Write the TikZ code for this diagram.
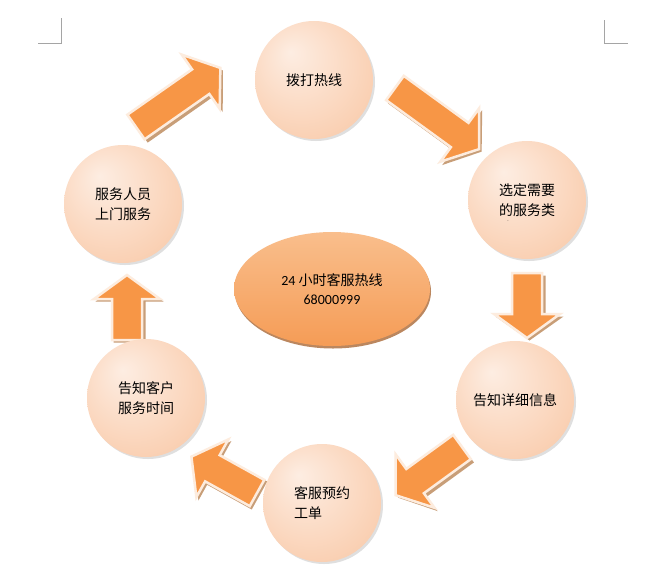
\documentclass[tikz,border=0pt]{standalone}
\usepackage{fontspec}
\setmainfont{Noto Sans CJK SC}
\newfontfamily\latinf{Carlito}
\usetikzlibrary{calc,shadows,shapes.geometric}
\definecolor{arrowor}{RGB}{247,150,70}
\definecolor{arrowrim}{RGB}{253,236,222}
\definecolor{arrowsh}{RGB}{200,158,120}
\definecolor{markg}{RGB}{165,165,165}
\definecolor{pk1}{RGB}{253,237,226}
\definecolor{pk2}{RGB}{251,216,192}
\definecolor{pk3}{RGB}{247,196,160}
\definecolor{pk4}{RGB}{238,170,128}
\definecolor{hubhi}{RGB}{249,190,140}
\definecolor{hubmid}{RGB}{246,148,68}
\definecolor{hublo}{RGB}{245,156,86}
\definecolor{hubsh}{RGB}{170,105,55}
\pgfdeclareradialshading{peach}{\pgfpoint{-10bp}{12bp}}{color(0bp)=(pk1); color(22bp)=(pk2); color(42bp)=(pk3); color(50bp)=(pk4)}

\begin{document}
\begin{tikzpicture}[
  x=1pt,y=-1pt,
  font={\fontsize{14pt}{20pt}\selectfont},
  stage/.style={circle,minimum size=118pt,inner sep=0pt,align=left,
                shading=peach,
                drop shadow={shadow xshift=2pt,shadow yshift=-2pt,opacity=0.25}},
  hub/.style={ellipse,minimum width=196pt,minimum height=114pt,inner sep=0pt,
              align=center,top color=hubhi,middle color=hubmid,bottom color=hublo,
              drop shadow={shadow xshift=1pt,shadow yshift=-2.5pt,fill=hubsh,opacity=0.8}},
  cornermark/.style={draw=markg,line width=0.8pt},
  arrowbody/.pic={\draw[draw=arrowrim,line width=2.5pt,fill=arrowor,line join=miter]
    (0,-15)--({#1-24},-15)--({#1-24},-33)--(#1,0)--({#1-24},33)--({#1-24},15)--(0,15)--cycle;},
  arrowshade/.pic={\fill[arrowsh]
    (0,-16)--({#1-24},-16)--({#1-24},-34)--(#1,0)--({#1-24},34)--({#1-24},16)--(0,16)--cycle;}
]
\useasboundingbox (0,0) rectangle (664,582);
\fill[white] (0,0) rectangle (664,582);

% page corner marks
\draw[cornermark] (61,18)--(61,43)--(38,43);
\draw[cornermark] (604,20)--(604,43)--(628,43);

% block arrows: tail x / tail y / angle / length
\foreach \tx/\ty/\ang/\len [count=\i] in
  {136/127/35/103, 395/88/-36/104, 527/273/-90/65,
   462/447/216/82, 257/493/151/75, 127/340/90/65}
{
  \pic[rotate=\ang] at ($(\tx,\ty)+(2.5,2.5)$) {arrowshade=\len};
  \pic[rotate=\ang] (arr\i) at (\tx,\ty) {arrowbody=\len};
}

% steps
\node[stage] (dial) at (314,80) {拨打热线};
\node[stage] (choose) at (527,200) {选定需要\\的服务类};
\node[font=\tiny,inner sep=0pt] (choosedot) at (508,221) {.};
\node[stage] (detail) at (515,400) {告知详细信息};
\node[stage] (order) at (322,503) {客服预约\\工单};
\node[stage] (tell) at (146,398) {告知客户\\服务时间};
\node[stage] (visit) at (123,204) {服务人员\\上门服务};

% centre
\node[hub,font={\fontsize{14pt}{19pt}\selectfont}] (hotline) at (332,289)
  {{\latinf 24} 小时客服热线\\{\latinf 68000999}};
\end{tikzpicture}
\end{document}
